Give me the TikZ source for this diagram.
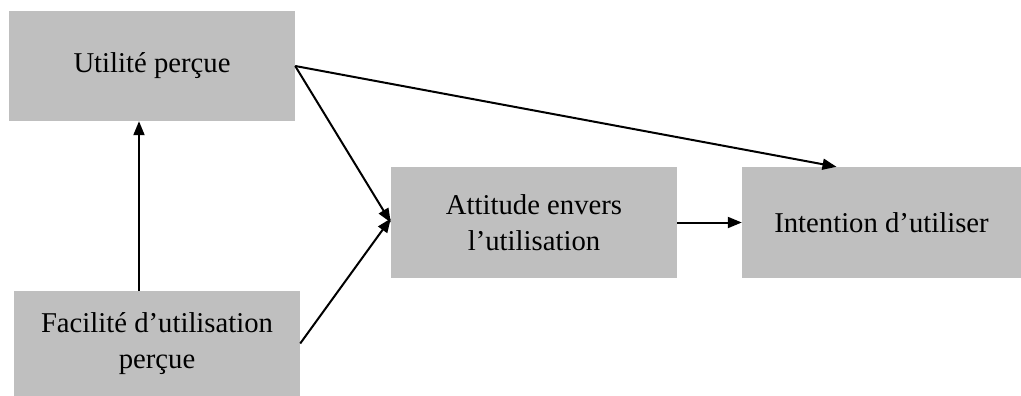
\documentclass[tikz,border=0pt]{standalone}
\usepackage{fontspec}
\setmainfont{Liberation Serif}
\usepackage{xcolor}
\usepackage{tikz}
\usetikzlibrary{arrows.meta}
\definecolor{boxgray}{RGB}{191,191,191}

\begin{document}
\begin{tikzpicture}
	[x=1pt, y=-1pt,
	every node/.style={font=\fontsize{28.7}{36}\selectfont},
	concept/.style={fill=boxgray, align=center, inner sep=0pt, minimum width=286pt, minimum height=110pt},
	link/.style={line width=2pt, -{Triangle[length=14pt,width=11pt]}}]
	\useasboundingbox (0,0) rectangle (1021,396);
	\node[concept] (utile) at (152,66) {Utilité perçue};
	\node[concept, minimum height=105pt] (facile) at (157,343.5) {Facilité d’utilisation\\perçue};
	\node[concept, minimum height=111pt] (attitude) at (534,222.5) {Attitude envers\\l’utilisation};
	\node[concept, minimum width=279pt, minimum height=111pt] (intention) at (881.5,222.5) {Intention d’utiliser};
	\coordinate (bas) at ([xshift=-18pt]facile.north);
	\draw[link] (bas) -- (bas |- utile.south);
	\draw[link] (utile.east) -- (attitude.west);
	\draw[link] (utile.east) -- ([xshift=-45pt]intention.north);
	\draw[link] (facile.east) -- ([yshift=4pt]attitude.west);
	\draw[link] (attitude.east) -- (intention.west);
\end{tikzpicture}
\end{document}
